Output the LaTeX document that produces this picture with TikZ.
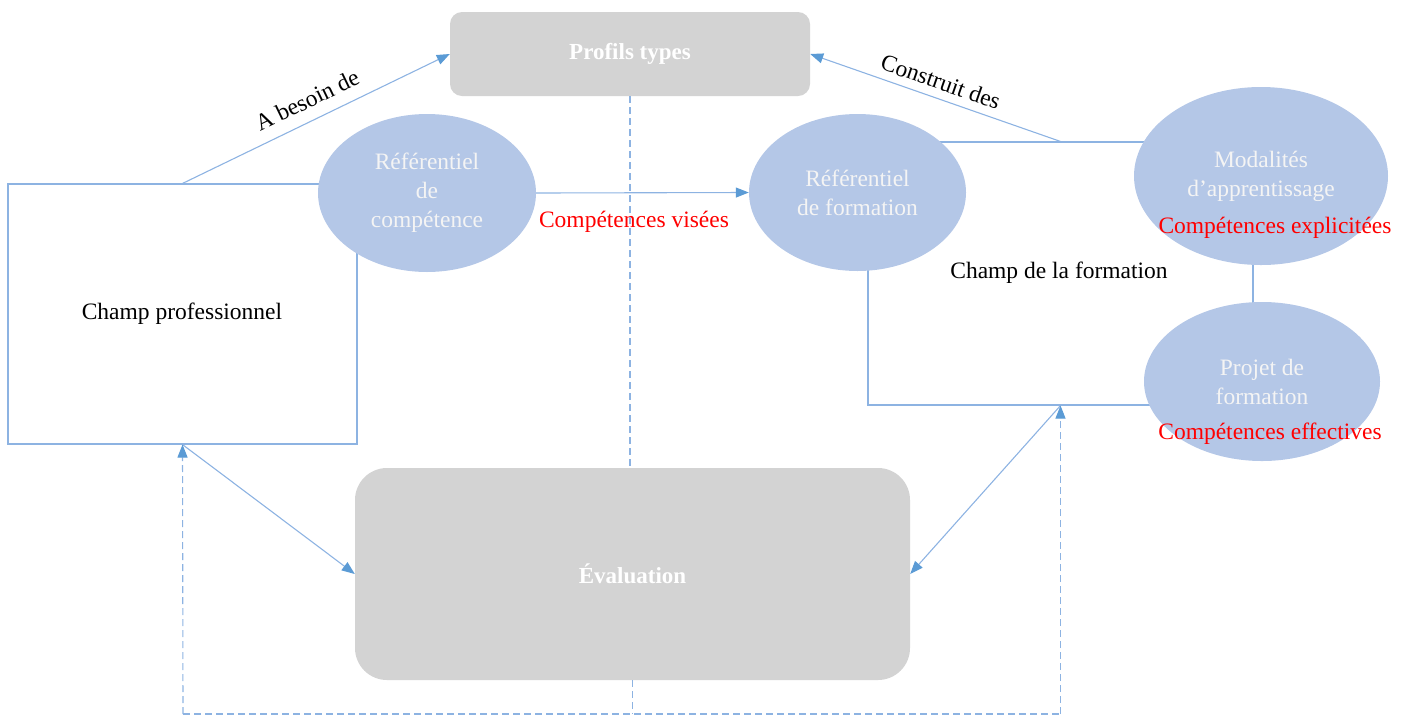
\documentclass[tikz,border=0pt]{standalone}
\usepackage{fontspec}
\setmainfont{Liberation Serif}
\usetikzlibrary{arrows.meta,shapes.geometric}
\definecolor{lineblue}{HTML}{8DB3E2}
\definecolor{tipblue}{HTML}{5B9BD5}
\definecolor{ellfill}{HTML}{B4C7E7}
\definecolor{boxgray}{HTML}{D3D3D3}
\definecolor{ltxt}{HTML}{F4F4F4}
\tikzset{
  conn/.style={draw=lineblue, line width=1.1pt, -{Triangle[length=13pt,width=10pt,color=tipblue]}},
  dconn/.style={conn, dash pattern=on 7pt off 4pt},
  dline/.style={draw=lineblue, line width=1.1pt, dash pattern=on 7pt off 4pt},
  field/.style={draw=lineblue, line width=1.1pt, rectangle, inner sep=0pt},
  ell/.style={ellipse, fill=ellfill, inner sep=0pt, text=ltxt, align=center, font=\fontsize{23.5}{29}\selectfont},
  gbox/.style={rectangle, fill=boxgray, text=white, font=\fontsize{23}{27}\selectfont\bfseries, inner sep=0pt},
  redtxt/.style={text=red, font=\fontsize{23.5}{27}\selectfont, inner sep=0pt},
  blk/.style={text=black, font=\fontsize{23.5}{27}\selectfont, inner sep=0pt}
}
\begin{document}
\begin{tikzpicture}[x=1pt,y=-1pt]
\useasboundingbox (0,0) rectangle (1408,716);
% fields (rectangles)
\node[field, minimum width=349pt, minimum height=260pt] (cp) at (182.5,314) {};
\node[field, minimum width=385pt, minimum height=263pt] (cf) at (1060.5,273.5) {};
% gray boxes
\node[gbox, rounded corners=12pt, minimum width=360pt, minimum height=84pt] (pt) at (630,54) {Profils types};
\node[gbox, rounded corners=32pt, minimum width=555pt, minimum height=212pt] (ev) at (632.5,574) {Évaluation};
% ellipses
\node[ell, minimum width=218pt, minimum height=158pt] (rc) at (427,193) {Référentiel\\de\\compétence};
\node[ell, minimum width=217pt, minimum height=157pt] (rf) at (857.5,192.5) {Référentiel\\de formation};
\node[ell, minimum width=254pt, minimum height=178pt] (mod) at (1261,176) {Modalités\\d’apprentissage};
\node[ell, minimum width=236pt, minimum height=159pt] (proj) at (1262,381.5) {Projet de\\formation};
% texts
\node[blk] (cptxt) at (182,314) {Champ professionnel};
\node[blk] (cftxt) at (1059,273) {Champ de la formation};
\node[redtxt] (cv) at (634,222) {Compétences visées};
\node[redtxt] (ce) at (1275,228) {Compétences explicitées};
\node[redtxt] (cef) at (1270,434) {Compétences effectives};
% connectors
\draw[conn] (cp.north) -- node[blk, sloped, above=12pt, pos=0.5] (lab1) {A besoin de} (pt.west);
\draw[conn] (cf.north) -- node[blk, sloped, above=8pt, pos=0.5] (lab2) {Construit des} (pt.east);
\draw[conn] (rc.east) -- (rf.west);
\draw[conn] (cp.south) -- (ev.west);
\draw[conn] (cf.south) -- (ev.east);
% dashed
\draw[dline] (pt.south) -- (pt.south |- ev.north);
\coordinate (bl) at (183,714);
\coordinate (br) at (1060.5,714);
\draw[dline] (ev.south) -- (ev.south |- bl);
\draw[dline] (bl) -- (br);
\draw[dconn] (bl) -- (cp.south);
\draw[dconn] (br) -- (cf.south);
\end{tikzpicture}
\end{document}
